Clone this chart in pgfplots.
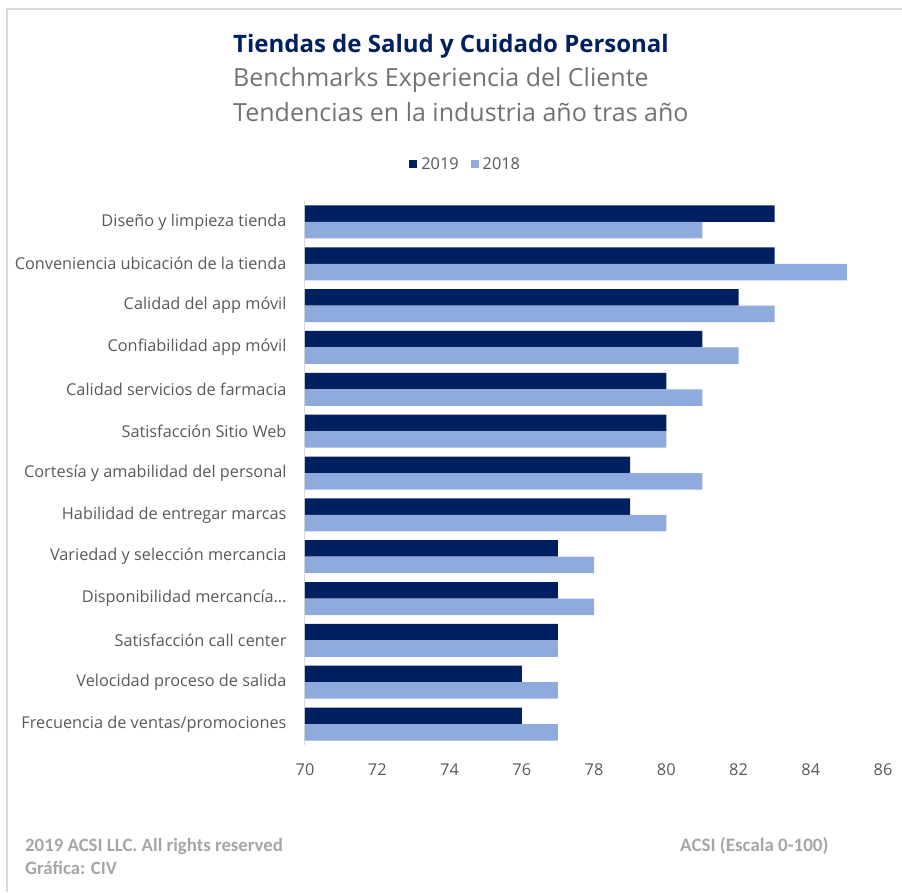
\documentclass[border=0pt]{standalone}
\usepackage{pgfplots}
\pgfplotsset{compat=1.18}
\usepackage{fontspec}
\setmainfont{Open Sans}
\newfontfamily\foot{Carlito}
\definecolor{navy}{HTML}{002060}
\definecolor{light}{HTML}{8FAADC}
\definecolor{txt}{HTML}{595959}
\definecolor{sub}{HTML}{767171}
\definecolor{ftg}{HTML}{A6A6A6}
\definecolor{bord}{HTML}{D9D9D9}
\begin{document}
\begin{tikzpicture}[x=1pt,y=1pt]
\path[use as bounding box] (0,0) rectangle (902,892);
\draw[bord,line width=1.5pt] (7,0) -- (7,883) -- (902,883);
\node[anchor=base west,inner sep=0,text=navy,font=\fontsize{24}{28}\selectfont\bfseries] at (233,892-53) {Tiendas de Salud y Cuidado Personal};
\node[anchor=base west,inner sep=0,text=sub,font=\fontsize{25}{28}\selectfont] at (233,892-87) {Benchmarks Experiencia del Cliente};
\node[anchor=base west,inner sep=0,text=sub,font=\fontsize{25}{28}\selectfont] at (233,892-122) {Tendencias en la industria año tras año};
\node[anchor=base west,inner sep=0,text=ftg,font=\fontsize{18.8}{22}\selectfont\foot\bfseries] at (25,892-851) {2019 ACSI LLC. All rights reserved};
\node[anchor=base west,inner sep=0,text=ftg,font=\fontsize{18.8}{22}\selectfont\foot\bfseries] at (25,892-874) {Gráfica: CIV};
\node[anchor=base west,inner sep=0,text=ftg,font=\fontsize{19}{22}\selectfont\foot\bfseries] at (680,892-851) {ACSI (Escala 0-100)};
\begin{axis}[
  at={(305pt,691pt)}, anchor=north west,
  width=578pt, height=544pt, scale only axis,
  xbar, bar width=16.5pt,
  xmin=70, xmax=86, ymin=-0.5, ymax=12.5, y dir=reverse,
  xtick={70,72,...,86},
  ytick={0,...,12},
  yticklabels={Diseño y limpieza tienda,Conveniencia ubicación de la tienda,Calidad del app móvil,Confiabilidad app móvil,Calidad servicios de farmacia,Satisfacción Sitio Web,Cortesía y amabilidad del personal,Habilidad de entregar marcas,Variedad y selección mercancia,{Disponibilidad mercancía…},Satisfacción call center,Velocidad proceso de salida,Frecuencia de ventas/promociones},
  major tick length=0pt,
  axis x line*=bottom, x axis line style={draw=none},
  axis y line*=left, y axis line style={draw=bord, line width=1pt},
  /pgf/number format/assume math mode=true,
  tick label style={font=\fontsize{16.3}{19}\selectfont, text=txt},
  xticklabel style={yshift=-15pt},
  yticklabel style={xshift=-15pt},
  legend style={at={(0.278,1.068)}, anchor=center, draw=none, legend columns=2, font=\fontsize{16.3}{19}\selectfont, text=txt, /tikz/every even column/.append style={column sep=10pt}, /tikz/every odd column/.append style={column sep=2pt}},
  legend image code/.code={\fill[#1] (0pt,-4pt) rectangle (8pt,4pt);},
]
\addplot[draw=none, fill=navy, bar shift=8.25pt] coordinates {(83,0) (83,1) (82,2) (81,3) (80,4) (80,5) (79,6) (79,7) (77,8) (77,9) (77,10) (76,11) (76,12)};
\addplot[draw=none, fill=light, bar shift=-8.25pt] coordinates {(81,0) (85,1) (83,2) (82,3) (81,4) (80,5) (81,6) (80,7) (78,8) (78,9) (77,10) (77,11) (77,12)};
\legend{2019,2018}
\end{axis}
\end{tikzpicture}
\end{document}
